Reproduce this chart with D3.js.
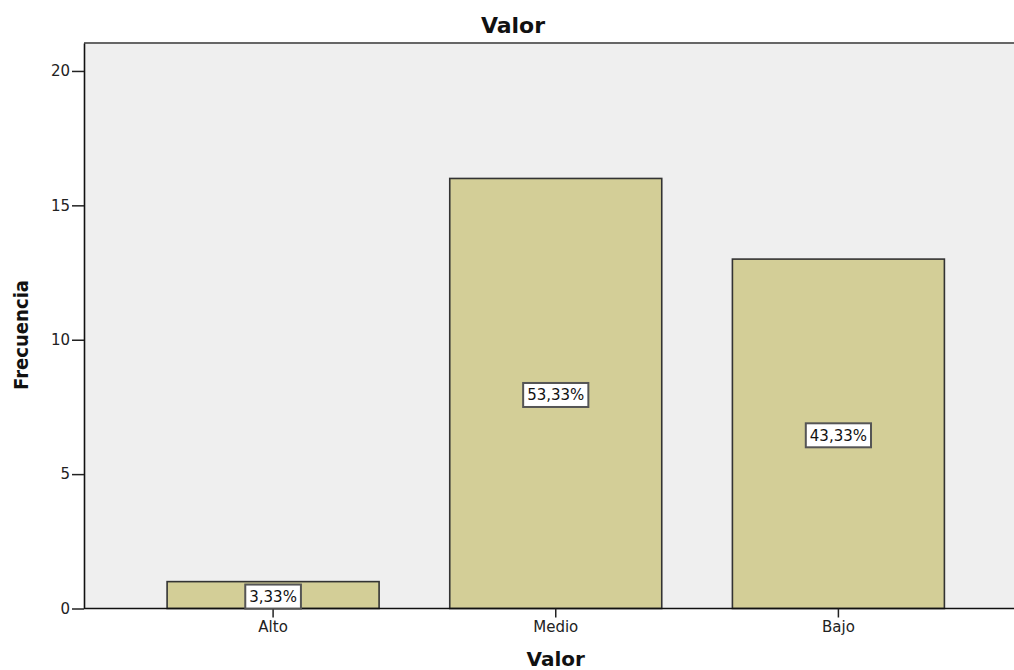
<!DOCTYPE html>
<html><head><meta charset="utf-8">
<script src="https://cdn.jsdelivr.net/npm/d3@7/dist/d3.min.js"></script>
<style>body{margin:0;background:#fff}svg{display:block;font-family:"DejaVu Sans",sans-serif}</style>
</head><body><svg id="c" width="1014" height="670"></svg>
<script>
const categories = ["Alto", "Medio", "Bajo"];
const frequencies = [1, 16, 13];
const percentLabels = ["3,33%", "53,33%", "43,33%"];
const yTicks = [0, 5, 10, 15, 20];

const svg = d3.select("#c");
const pLeft = 84, pRight = 1027.5, pTop = 43, pBottom = 608.5;
const x = d3.scaleBand().domain(categories).range([pLeft, pRight]).paddingInner(0.25).paddingOuter(0.294);
const y = d3.scaleLinear().domain([0, 21.04]).range([pBottom, pTop]);

svg.append("rect").attr("x", pLeft).attr("y", pTop).attr("width", 1014 - pLeft).attr("height", pBottom - pTop).attr("fill", "#efefef");
svg.append("line").attr("x1", pLeft).attr("x2", 1014).attr("y1", pTop).attr("y2", pTop).attr("stroke", "#666").attr("stroke-width", 2);

const data = categories.map((c, i) => ({c, v: frequencies[i], p: percentLabels[i]}));

svg.selectAll(".bar").data(data).join("rect")
  .attr("x", d => x(d.c)).attr("y", d => y(d.v))
  .attr("width", x.bandwidth()).attr("height", d => pBottom - y(d.v))
  .attr("fill", "#d3ce97").attr("stroke", "#333").attr("stroke-width", 1.6);

const yAxis = svg.append("g").attr("transform", `translate(${pLeft},0)`)
  .call(d3.axisLeft(y).tickValues(yTicks).tickSize(12).tickSizeOuter(0).tickPadding(2));
const xAxis = svg.append("g").attr("transform", `translate(0,${pBottom})`)
  .call(d3.axisBottom(x).tickSize(9).tickSizeOuter(0).tickPadding(4));
[yAxis, xAxis].forEach(g => {
  g.select(".domain").attr("stroke", "#111").attr("stroke-width", 1.6);
  g.selectAll(".tick line").attr("stroke", "#222").attr("stroke-width", 1.5);
  g.selectAll("text").attr("font-size", 15).attr("fill", "#222").attr("font-family", "DejaVu Sans, sans-serif");
});
xAxis.select(".domain").attr("d", `M${pLeft},0H1014`);

const lab = svg.selectAll(".lab").data(data).join("g")
  .attr("transform", d => `translate(${x(d.c) + x.bandwidth()/2},${(y(d.v) + pBottom)/2 + 1.5})`);
const labRect = lab.append("rect");
const labText = lab.append("text").attr("text-anchor", "middle").attr("dy", "0.36em")
  .attr("font-size", 15).attr("fill", "#111").text(d => d.p);
labText.each(function(d) { d.w = this.getComputedTextLength() + 8; });
labRect.attr("x", d => -d.w / 2).attr("y", -12).attr("width", d => d.w).attr("height", 24)
  .attr("fill", "#fff").attr("stroke", "#555").attr("stroke-width", 2);

svg.append("text").attr("x", 513).attr("y", 33).attr("text-anchor", "middle")
  .attr("font-weight", "bold").attr("font-size", 22).attr("fill", "#111").text("Valor");
svg.append("text").attr("x", (pLeft + pRight) / 2).attr("y", 666).attr("text-anchor", "middle")
  .attr("font-weight", "bold").attr("font-size", 20).attr("fill", "#111").text("Valor");
svg.append("text").attr("transform", "translate(28,335) rotate(-90)").attr("text-anchor", "middle")
  .attr("font-weight", "bold").attr("font-size", 20).attr("fill", "#111")
  .attr("textLength", 110).attr("lengthAdjust", "spacingAndGlyphs").text("Frecuencia");
</script></body></html>
